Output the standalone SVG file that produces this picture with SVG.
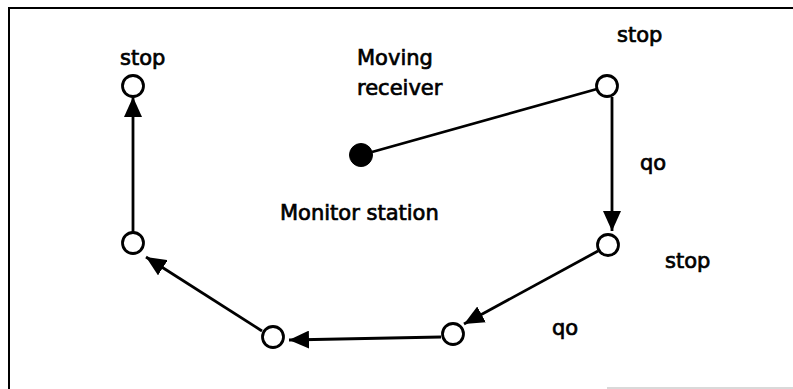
<svg xmlns="http://www.w3.org/2000/svg" width="793" height="389" viewBox="0 0 793 389">
<style>
.node{fill:#fff;stroke:#000;stroke-width:2.8}
.dot{fill:#000;stroke:#000;stroke-width:1}
.edge{stroke:#000;stroke-width:2.8;fill:none}
.lbl{font-family:"DejaVu Sans",Verdana,sans-serif;font-size:21px;fill:#000;stroke:#000;stroke-width:0.7}
</style>
<defs>
<marker id="arr" markerUnits="userSpaceOnUse" markerWidth="21" markerHeight="18" refX="20" refY="9" orient="auto" viewBox="0 0 21 18">
<path d="M0,0 L20,9 L0,18 z" fill="#000"/>
</marker>
</defs>
<rect width="793" height="389" fill="#fff"/>
<g id="frame" stroke="#000" stroke-width="2" fill="none">
<line x1="9" y1="8" x2="793" y2="8"/>
<line x1="9" y1="7" x2="9" y2="389"/>
<line x1="607" y1="388" x2="793" y2="388" stroke="#ccc" stroke-width="1.5"/>
</g>
<g id="connectors">
<line class="edge" x1="372" y1="152" x2="597" y2="89"/>
<line class="edge" x1="612" y1="97" x2="612" y2="231" marker-end="url(#arr)"/>
<line class="edge" x1="598" y1="251" x2="464" y2="324" marker-end="url(#arr)"/>
<line class="edge" x1="441" y1="337" x2="289" y2="340" marker-end="url(#arr)"/>
<line class="edge" x1="262" y1="331" x2="146" y2="257" marker-end="url(#arr)"/>
<line class="edge" x1="133" y1="233" x2="133" y2="97" marker-end="url(#arr)"/>
</g>
<g id="n-top-left"><circle class="node" cx="133" cy="86" r="10.5"/><text class="lbl" x="120" y="65">stop</text></g>
<g id="n-mid-left"><circle class="node" cx="133" cy="243" r="10.5"/></g>
<g id="n-bottom-left"><circle class="node" cx="273" cy="337" r="10.5"/></g>
<g id="n-bottom-right"><circle class="node" cx="453" cy="334" r="10.5"/><text class="lbl" x="552" y="335">qo</text></g>
<g id="n-mid-right"><circle class="node" cx="608" cy="245" r="10.5"/><text class="lbl" x="665" y="268">stop</text></g>
<g id="n-top-right"><circle class="node" cx="607" cy="86" r="10.5"/><text class="lbl" x="617" y="42">stop</text><text class="lbl" x="640" y="170">qo</text></g>
<g id="n-monitor"><circle class="dot" cx="361" cy="155" r="11.5"/><text class="lbl" x="357" y="65">Moving</text><text class="lbl" x="357" y="95">receiver</text><text class="lbl" x="280" y="220">Monitor station</text></g>
</svg>
